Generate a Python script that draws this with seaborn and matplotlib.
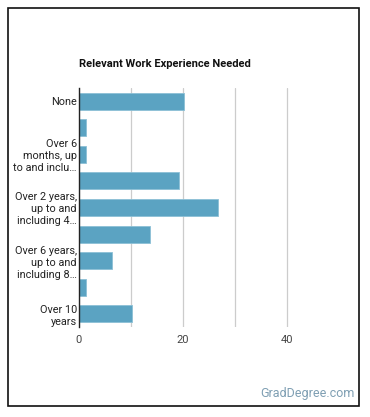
import numpy as np
import pandas as pd
import matplotlib
matplotlib.use("Agg")
import matplotlib.pyplot as plt
import seaborn as sns
from matplotlib.patches import Rectangle

# categories (full names) and the shortened labels shown on every other bar
categories = [
    "None",
    "Over 3 months, up to and including 6 months",
    "Over 6 months, up to and including 1 year",
    "Over 1 year, up to and including 2 years",
    "Over 2 years, up to and including 4 years",
    "Over 4 years, up to and including 6 years",
    "Over 6 years, up to and including 8 years",
    "Over 8 years, up to and including 10 years",
    "Over 10 years",
]
shown_labels = [
    "None",
    "",
    "Over 6\nmonths, up\nto and inclu\u2026",
    "",
    "Over 2 years,\nup to and\nincluding 4\u2026",
    "",
    "Over 6 years,\nup to and\nincluding 8\u2026",
    "",
    "Over 10\nyears",
]
percent = [20.1, 1.4, 1.4, 19.3, 26.8, 13.7, 6.4, 1.4, 10.2]

df = pd.DataFrame({"category": categories, "percent": percent})

sns.set_style("white")
plt.rcParams["font.family"] = ["Roboto", "DejaVu Sans"]

fig = plt.figure(figsize=(3.70, 4.17), dpi=100)
ax = fig.add_axes([0.2135, 0.216, 0.703, 0.573])

sns.barplot(data=df, x="percent", y="category", color="#5ba3c2",
            width=0.64, edgecolor="#8cc0d6", linewidth=0.6, ax=ax,
            saturation=1)

ax.set_xlim(0, 50)
ax.set_xticks([0, 20, 40])
ax.set_xticks([10, 30], minor=True)
ax.grid(axis="x", which="both", color="#cccccc", linewidth=0.9)
ax.set_axisbelow(True)
ax.set_yticks(range(len(categories)))
ax.set_yticklabels(shown_labels, fontsize=7.8, color="#222222", linespacing=1.25)
ax.tick_params(axis="x", labelsize=8, colors="#444444", length=0, pad=6)
ax.tick_params(axis="y", length=0, pad=1.5)
ax.set_xlabel("")
ax.set_ylabel("")
for s in ["top", "right", "bottom"]:
    ax.spines[s].set_visible(False)
ax.spines["left"].set_color("#222222")
ax.spines["left"].set_linewidth(1.0)

fig.text(79 / 370, 1 - 64 / 417, "Relevant Work Experience Needed",
         fontsize=8, fontweight="bold", color="#111111", va="center", ha="left")

fig.text(355 / 370, 1 - 394 / 417, "GradDegree.com", fontsize=9,
         color="#7f9fb3", ha="right", va="center")

fig.patches.append(Rectangle((8 / 370, 1 - 406 / 417), 351 / 370, 398 / 417,
                             transform=fig.transFigure, fill=False,
                             edgecolor="#111111", linewidth=1.2))

fig.savefig("out.png", dpi=100)
